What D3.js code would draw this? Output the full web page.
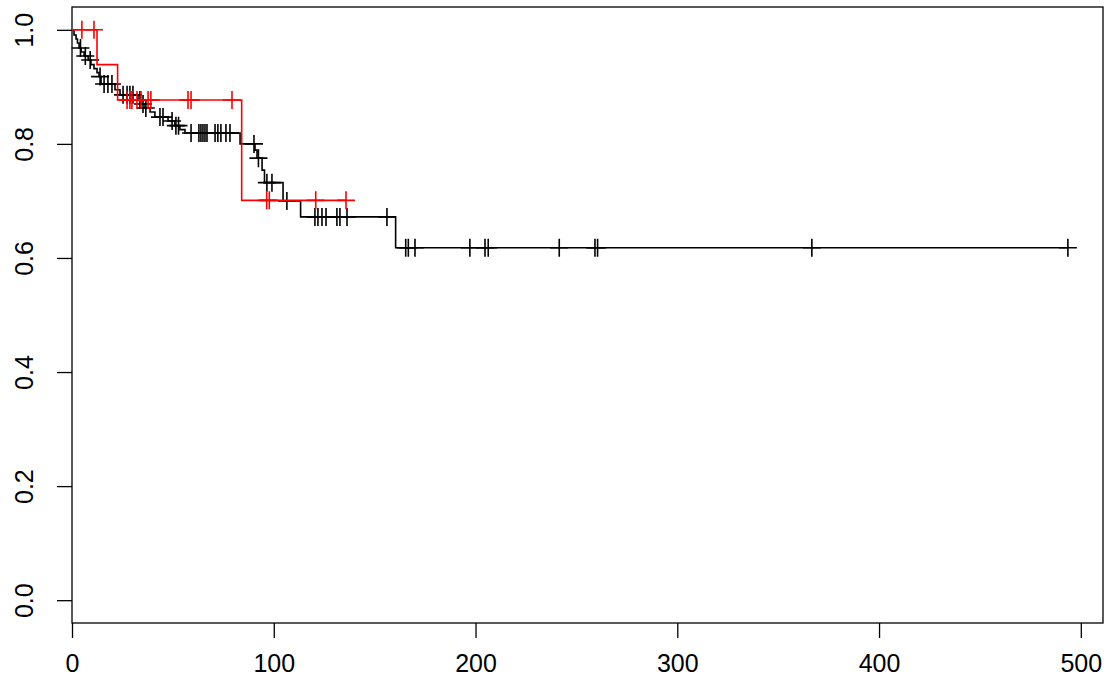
<!DOCTYPE html>
<html>
<head>
<meta charset="utf-8">
<script src="https://cdn.jsdelivr.net/npm/d3@7"></script>
<style>
  body { margin: 0; background: #fff; }
  svg { display: block; }
  text { font-family: "Liberation Sans", Arial, sans-serif; }
</style>
</head>
<body>
<div id="chart"></div>
<script>
// step curves: event times and survival right after each event
var blackTimes = [1.0, 2.0, 2.7, 3.5, 4.5, 6.0, 8.0, 9.4, 10.9, 12.4, 13.4, 14.4, 21.3, 23.8,
    32.7, 34.2, 36.2, 38.7, 41.1, 47.6, 51.0, 53.5, 56.0, 83.3, 90.7, 91.7, 94.2, 95.4,
    104.6, 113.3, 160.4];
var blackSurv = [0.991, 0.984, 0.977, 0.968, 0.961, 0.954, 0.947, 0.939, 0.932, 0.925, 0.918,
    0.905, 0.895, 0.886, 0.877, 0.870, 0.863, 0.856, 0.847, 0.840, 0.832, 0.825, 0.819,
    0.800, 0.789, 0.775, 0.754, 0.732, 0.700, 0.672, 0.618];
var blackCensor = [4.2, 6.6, 9.0, 13.9, 15.9, 17.8, 19.8, 25.3, 27.3, 28.7, 30.2, 33.7, 35.2,
    36.6, 43.6, 45.1, 49.6, 51.5, 52.8, 59.0, 62.9, 63.9, 64.9, 65.9, 66.9, 70.9, 72.3, 73.8,
    76.3, 78.3, 90.2, 92.4, 96.6, 99.1, 106.5, 120.4, 121.9, 123.9, 125.9, 131.3, 132.8,
    136.3, 156.1, 165.4, 166.7, 170.0, 197.2, 204.7, 206.3, 241.5, 259.2, 260.5, 366.7, 493.6];

var redTimes = [12.4, 22.6, 84.1];
var redSurv = [0.939, 0.877, 0.701];
var redCensor = [4.9, 10.9, 27.3, 28.7, 29.7, 32.2, 34.2, 37.7, 39.1, 57.5, 59.0, 79.3,
    96.5, 97.8, 120.8, 135.8];

var xTicks = [0, 100, 200, 300, 400, 500];
var yTicks = [0.0, 0.2, 0.4, 0.6, 0.8, 1.0];

var width = 1107, height = 685;
var margin = {top: 7, right: 4, bottom: 62, left: 72};

var svg = d3.select("#chart")
    .append("svg")
    .attr("width", width)
    .attr("height", height);

var x = d3.scaleLinear()
    .domain([0, 511])
    .range([margin.left, width - margin.right]);

var y = d3.scaleLinear()
    .domain([-0.04, 1.04])
    .range([height - margin.bottom, margin.top]);

// frame
svg.append("rect")
    .attr("x", x(0))
    .attr("y", y(1.04))
    .attr("width", x(511) - x(0))
    .attr("height", y(-0.04) - y(1.04))
    .attr("fill", "none")
    .attr("stroke", "#000")
    .attr("stroke-width", 1.3);

// axes
var xAxis = svg.append("g")
    .attr("transform", "translate(0," + y(-0.04) + ")")
    .call(d3.axisBottom(x).tickValues(xTicks).tickSize(15).tickPadding(16)
        .tickFormat(d3.format("d")));

var yAxis = svg.append("g")
    .attr("transform", "translate(" + x(0) + ",0)")
    .call(d3.axisLeft(y).tickValues(yTicks).tickSize(15).tickPadding(0)
        .tickFormat(d3.format(".1f")));

[xAxis, yAxis].forEach(function (g) {
    g.select(".domain").remove();
    g.selectAll(".tick line").attr("stroke", "#000").attr("stroke-width", 1.3);
    g.selectAll(".tick text")
        .attr("fill", "#000")
        .style("font-size", "25px")
        .style("font-family", "'Liberation Sans', Arial, sans-serif");
});

xAxis.selectAll(".tick text").attr("dy", "0.71em");

yAxis.selectAll(".tick text")
    .attr("x", null)
    .attr("dy", null)
    .attr("text-anchor", "middle")
    .attr("transform", "translate(-39,0) rotate(-90)");

function stepPath(times, surv, lastTime) {
    var pts = [[0, 1]];
    var cur = 1;
    times.forEach(function (t, i) {
        pts.push([t, cur]);
        cur = surv[i];
        pts.push([t, cur]);
    });
    pts.push([lastTime, cur]);
    return pts;
}

function survAt(times, surv, t) {
    var s = 1;
    times.forEach(function (tt, i) {
        if (tt <= t) s = surv[i];
    });
    return s;
}

var line = d3.line()
    .x(function (d) { return x(d[0]); })
    .y(function (d) { return y(d[1]); });

function drawCurve(times, surv, censor, color) {
    var last = Math.max(d3.max(times), d3.max(censor));
    svg.append("path")
        .datum(stepPath(times, surv, last))
        .attr("d", line)
        .attr("fill", "none")
        .attr("stroke", color)
        .attr("stroke-width", 1.6);

    var marks = svg.append("g")
        .selectAll("path.censor")
        .data(censor)
        .enter()
        .append("path")
        .attr("class", "censor")
        .attr("transform", function (d) {
            return "translate(" + x(d) + "," + y(survAt(times, surv, d)) + ")";
        })
        .attr("d", "M-9,0H9M0,-9V9")
        .attr("fill", "none")
        .attr("stroke", color)
        .attr("stroke-width", 1.6);
}

drawCurve(blackTimes, blackSurv, blackCensor, "#000000");
drawCurve(redTimes, redSurv, redCensor, "#ff0000");
</script>
</body>
</html>
